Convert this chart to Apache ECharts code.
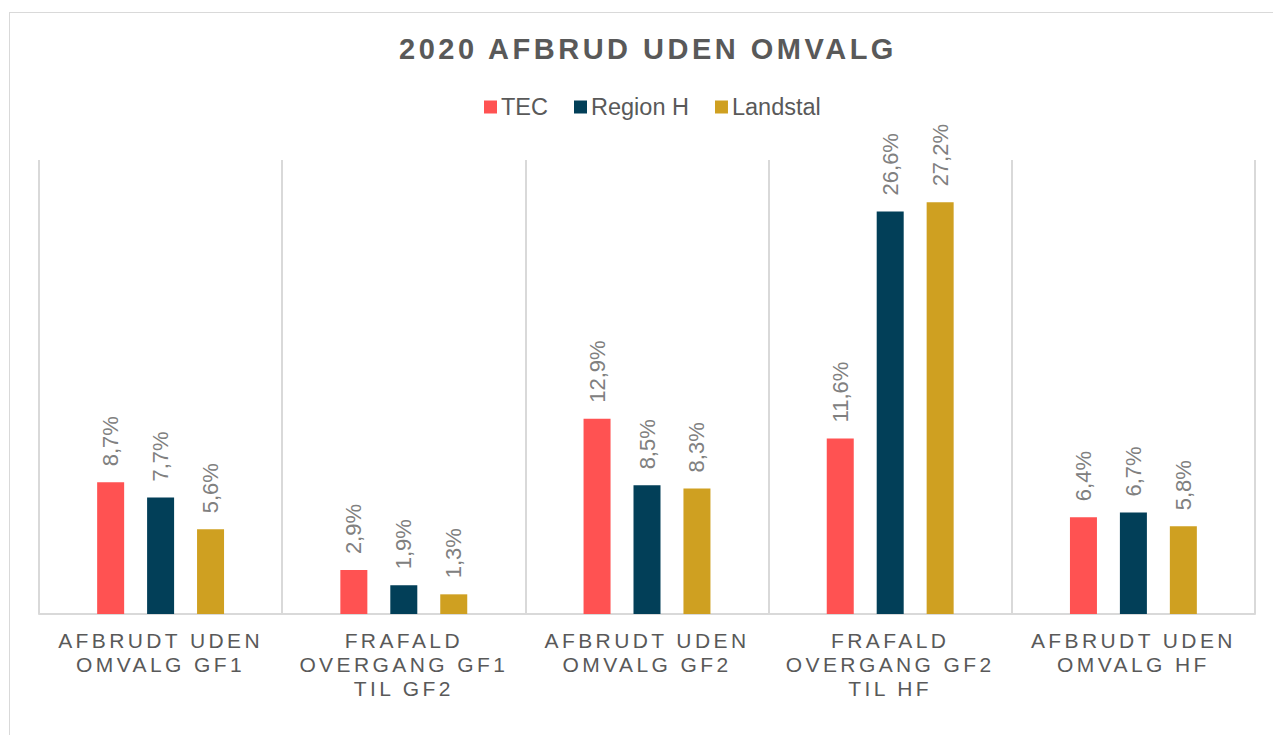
<!DOCTYPE html>
<html>
<head>
<meta charset="UTF-8">
<title>2020 Afbrud uden omvalg</title>
<script src="https://cdn.jsdelivr.net/npm/echarts@6/dist/echarts.min.js"></script>
<style type="text/css">
   html, body{
      margin:0;
      padding:0;
      background-color:#ffffff;
      overflow:hidden;
   }
   #chart{
      position:absolute;
      left:9px;
      top:12px;
      width:1272px;
      height:722px;
      border:1px solid #d9d9d9;
   }
   /* spaced caps for the title and the category labels */
   #chart text[style*="Helvetica"], #chart text[font-family*="Helvetica"]{
      letter-spacing:3.5px;
   }
   #chart text[style*="Arimo"], #chart text[font-family*="Arimo"]{
      letter-spacing:3.4px;
   }
</style>
</head>
<body>
<div id="chart"></div>
<script type="text/javascript">
var categories = [
   'AFBRUDT UDEN\nOMVALG GF1',
   'FRAFALD\nOVERGANG GF1\nTIL GF2',
   'AFBRUDT UDEN\nOMVALG GF2',
   'FRAFALD\nOVERGANG GF2\nTIL HF',
   'AFBRUDT UDEN\nOMVALG HF'
];
var seriesNames = ['TEC', 'Region H', 'Landstal'];
var tec      = [8.7, 2.9, 12.9, 11.6, 6.4];
var regionH  = [7.7, 1.9, 8.5, 26.6, 6.7];
var landstal = [5.6, 1.3, 8.3, 27.2, 5.8];
var colors = ['#FF5252', '#023F58', '#CFA021'];

var myChart = echarts.init(document.getElementById('chart'), null, {renderer: 'svg'});

function pct(p){
   return p.value.toFixed(1).replace('.', ',') + '%';
}

function makeSeries(name, data){
   return {
      name: name,
      type: 'bar',
      barWidth: 27,
      barGap: '85%',
      data: data,
      label: {
         show: true,
         position: 'top',
         distance: 16,
         rotate: 90,
         align: 'left',
         verticalAlign: 'middle',
         color: '#808080',
         fontSize: 22,
         fontFamily: 'Liberation Sans, sans-serif',
         formatter: pct
      }
   };
}

var option = {
   color: colors,
   animation: false,
   title: {
      text: '2020 AFBRUD UDEN OMVALG',
      left: 633,
      top: 16,
      textAlign: 'center',
      textStyle: {
         color: '#595959',
         fontSize: 29,
         fontWeight: 'bold',
         fontFamily: 'Helvetica, Liberation Sans, sans-serif'
      }
   },
   legend: {
      top: 77,
      left: 469,
      itemWidth: 13,
      itemHeight: 13,
      itemGap: 26,
      icon: 'rect',
      textStyle: {
         color: '#595959',
         fontSize: 23.5,
         fontFamily: 'Liberation Sans, sans-serif',
         padding: [0, 0, 0, -1]
      },
      data: seriesNames
   },
   grid: {
      left: 29,
      right: 27,
      top: 147,
      bottom: 121,
      containLabel: false
   },
   xAxis: {
      type: 'category',
      data: categories,
      axisTick: {show: false},
      axisLine: {lineStyle: {color: '#d9d9d9', width: 2}},
      splitLine: {show: true, interval: 0, lineStyle: {color: '#d9d9d9', width: 2}},
      axisLabel: {
         interval: 0,
         margin: 14,
         color: '#595959',
         fontSize: 21,
         lineHeight: 24,
         fontFamily: 'Arimo, Liberation Sans, sans-serif'
      }
   },
   yAxis: {
      type: 'value',
      min: 0,
      max: 30,
      show: false,
      splitLine: {show: false}
   },
   series: [
      makeSeries(seriesNames[0], tec),
      makeSeries(seriesNames[1], regionH),
      makeSeries(seriesNames[2], landstal)
   ]
};

myChart.setOption(option);
</script>
</body>
</html>
